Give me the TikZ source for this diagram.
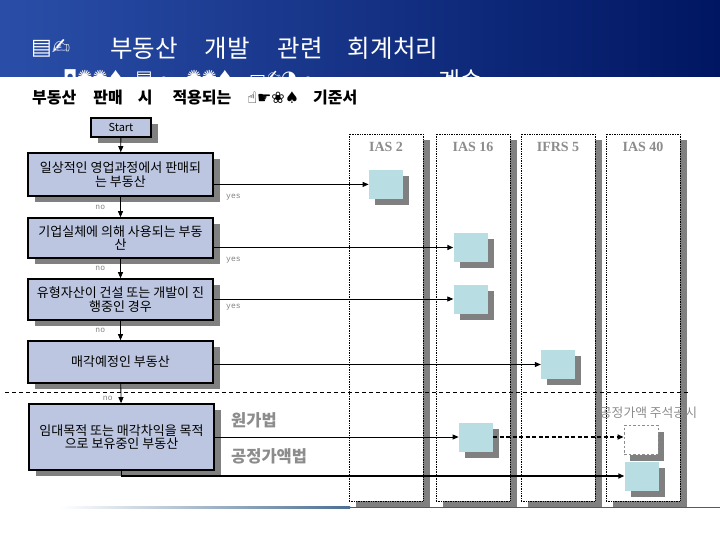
\documentclass[tikz,border=0pt]{standalone}
\usepackage{fontspec}
\setmainfont{Noto Sans CJK KR}
\newfontfamily\symfont{DejaVu Sans}
\newfontfamily\serfont{Liberation Serif}
\newfontfamily\ynfont{Liberation Mono}
\usetikzlibrary{arrows.meta,positioning,shadows}

\definecolor{flowblue}{RGB}{188,198,224}
\definecolor{resultcyan}{RGB}{184,221,227}
\definecolor{shadowgray}{RGB}{128,128,128}
\definecolor{labelgray}{RGB}{140,140,140}
\definecolor{hdrleft}{RGB}{42,78,168}
\definecolor{hdrmid}{RGB}{74,116,206}
\definecolor{hdrdark}{RGB}{0,22,98}
\definecolor{rulblue}{RGB}{40,100,160}

\begin{document}
\begin{tikzpicture}[x=1pt, y=-1pt,
    flowbox/.style={draw, line width=1.6pt, fill=flowblue, align=center,
        font=\fontsize{13}{13.5}\selectfont, minimum width=185pt, inner sep=2pt,
        general shadow={fill=shadowgray, shadow xshift=7pt, shadow yshift=-6pt}},
    lane/.style={draw, densely dotted, line width=0.7pt, fill=white,
        minimum width=74pt, minimum height=367pt, inner sep=0pt,
        general shadow={fill=shadowgray, shadow xshift=7pt, shadow yshift=-6pt}},
    lanetitle/.style={text=labelgray, font=\serfont\bfseries\fontsize{14}{16}\selectfont},
    result/.style={fill=resultcyan, minimum width=34pt, minimum height=29pt, inner sep=0pt,
        general shadow={fill=shadowgray, shadow xshift=6pt, shadow yshift=-6pt}},
    pending/.style={result, fill=white, draw=labelgray, line width=1.5pt,
        dash pattern=on 2.5pt off 2pt},
    flowarrow/.style={line width=0.8pt, -{Triangle[length=6pt,width=5pt]}},
    yesno/.style={text=shadowgray, font=\ynfont\fontsize{8}{9}\selectfont, inner sep=1pt},
    method/.style={text=labelgray, font=\bfseries\fontsize{16.5}{18}\selectfont,
        anchor=west, inner sep=0pt},
  ]
    \pgfdeclarelayer{background}
    \pgfsetlayers{background,main}
    \useasboundingbox (0,0) rectangle (720,540);

    % header band
    \begin{pgfonlayer}{background}
        \shade[left color=hdrleft, middle color=hdrmid, right color=hdrdark] (0,0) rectangle (720,77);
        \shade[left color=white, right color=rulblue!60!gray] (60,506.8) rectangle (350,508.2);
        \fill[rulblue] (350,506.8) rectangle (720,508.2);
    \end{pgfonlayer}
    \node[anchor=west, text=white, font=\symfont\fontsize{22}{24}\selectfont, inner sep=0pt] (titleicons) at (31,48) {▤✍};
    \node[anchor=west, text=white, font=\fontsize{24.5}{26}\selectfont, inner sep=0pt] (title) at (110,48)
        {부동산\hspace{27pt}개발\hspace{28pt}관련\hspace{25pt}회계처리};
    \begin{scope}
        \clip (0,0) rectangle (720,77);
        \node[anchor=west, text=white, font=\symfont\fontsize{18}{20}\selectfont, inner sep=0pt] (subicons) at (63,78)
            {◘✺✺♠\hspace{12pt}▤☁\hspace{16pt}✺✺♠\hspace{16pt}▭✍◑☁};
        \node[anchor=west, text=white, font=\fontsize{24}{26}\selectfont, inner sep=0pt] (subcont) at (438,81) {계속};
    \end{scope}
    \node[anchor=west, font=\bfseries\fontsize{16}{18}\selectfont, inner sep=0pt] (subtitle) at (32,98)
        {부동산\hspace{17pt}판매\hspace{15pt}시\hspace{20pt}적용되는\hspace{16pt}{\symfont\mdseries ☝☛❀♠}\hspace{14pt}기준서};

    % standards lanes
    \begin{pgfonlayer}{background}
        \foreach \nm/\cx/\ttl in {ias2/386/IAS 2, ias16/473/IAS 16, ifrs5/558/IFRS 5, ias40/643/IAS 40} {
            \node[lane] (\nm) at (\cx,317.5) {};
            \node[lanetitle] (\nm-title) at ([yshift=-13pt]\nm.north) {\ttl};
        }
    \end{pgfonlayer}

    % decision boxes
    \node[flowbox, minimum width=60pt, minimum height=19pt, font=\fontsize{11}{12}\selectfont] (start) at (121,127.5) {Start};
    \node[flowbox, minimum height=43pt] (sale) at (120.5,174.5) {일상적인 영업과정에서 판매되\\는 부동산};
    \node[flowbox, minimum height=40pt] (owner) at (120.5,238) {기업실체에 의해 사용되는 부동\\산};
    \node[flowbox, minimum height=41pt] (build) at (120.5,299.5) {유형자산이 건설 또는 개발이 진\\행중인 경우};
    \node[flowbox, minimum height=42pt] (held) at (120.5,362) {매각예정인 부동산};
    \node[flowbox, minimum height=66pt] (invest) at (121.5,437) {임대목적 또는 매각차익을 목적\\으로 보유중인 부동산};

    % results in lanes
    \node[result] (inventory) at (385.8,184.4) {};
    \node[result] (ppeuse) at (470.5,247.5) {};
    \node[result] (ppebuild) at (470.5,299) {};
    \node[result] (forsale) at (558,364.5) {};
    \node[result] (costmodel) at (475.8,437) {};
    \node[pending] (fvnote) at (641.3,440) {};
    \node[result] (fairmodel) at (641.5,476) {};

    % flow
    \draw[flowarrow] (start) -- (sale);
    \draw[flowarrow] (sale) -- node[yesno, left=14pt] {no} (owner);
    \draw[flowarrow] (owner) -- node[yesno, left=14pt] {no} (build);
    \draw[flowarrow] (build) -- node[yesno, left=14pt] {no} (held);
    \draw[flowarrow] (held) -- node[yesno, pos=0.75, left=7pt] {no} (invest);

    \draw[flowarrow] (sale.east |- inventory.west) -- (inventory.west);
    \draw[flowarrow, line width=1.6pt] (owner.east |- ppeuse.west) -- (ppeuse.west);
    \draw[flowarrow] (build.east |- ppebuild.west) -- (ppebuild.west);
    \draw[flowarrow] (held.east |- forsale.west) -- (forsale.west);
    \draw[flowarrow] (invest.east |- costmodel.west) -- (costmodel.west);
    \draw[flowarrow, line width=1.6pt, dash pattern=on 4pt off 2.5pt] (costmodel.east) -- (costmodel.east -| fvnote.west);
    \draw[flowarrow, line width=1.6pt] (invest.south) |- (fairmodel.west);

    \node[yesno, anchor=west] (yes1) at (225,197) {yes};
    \node[yesno, anchor=west] (yes2) at (225,260) {yes};
    \node[yesno, anchor=west] (yes3) at (225,307) {yes};

    % separator
    \coordinate (sepleft) at (5,392);
    \coordinate (sepright) at (688,392);
    \draw[dash pattern=on 4pt off 3pt, line width=0.8pt] (sepleft) -- (sepright);

    \node[method] (costlabel) at (231,420) {원가법};
    \node[method] (fairlabel) at (231,456) {공정가액법};
    \node[text=labelgray, font=\fontsize{12.8}{14}\selectfont] (notelabel) at (648.5,412.7) {공정가액 주석공시};
\end{tikzpicture}
\end{document}
